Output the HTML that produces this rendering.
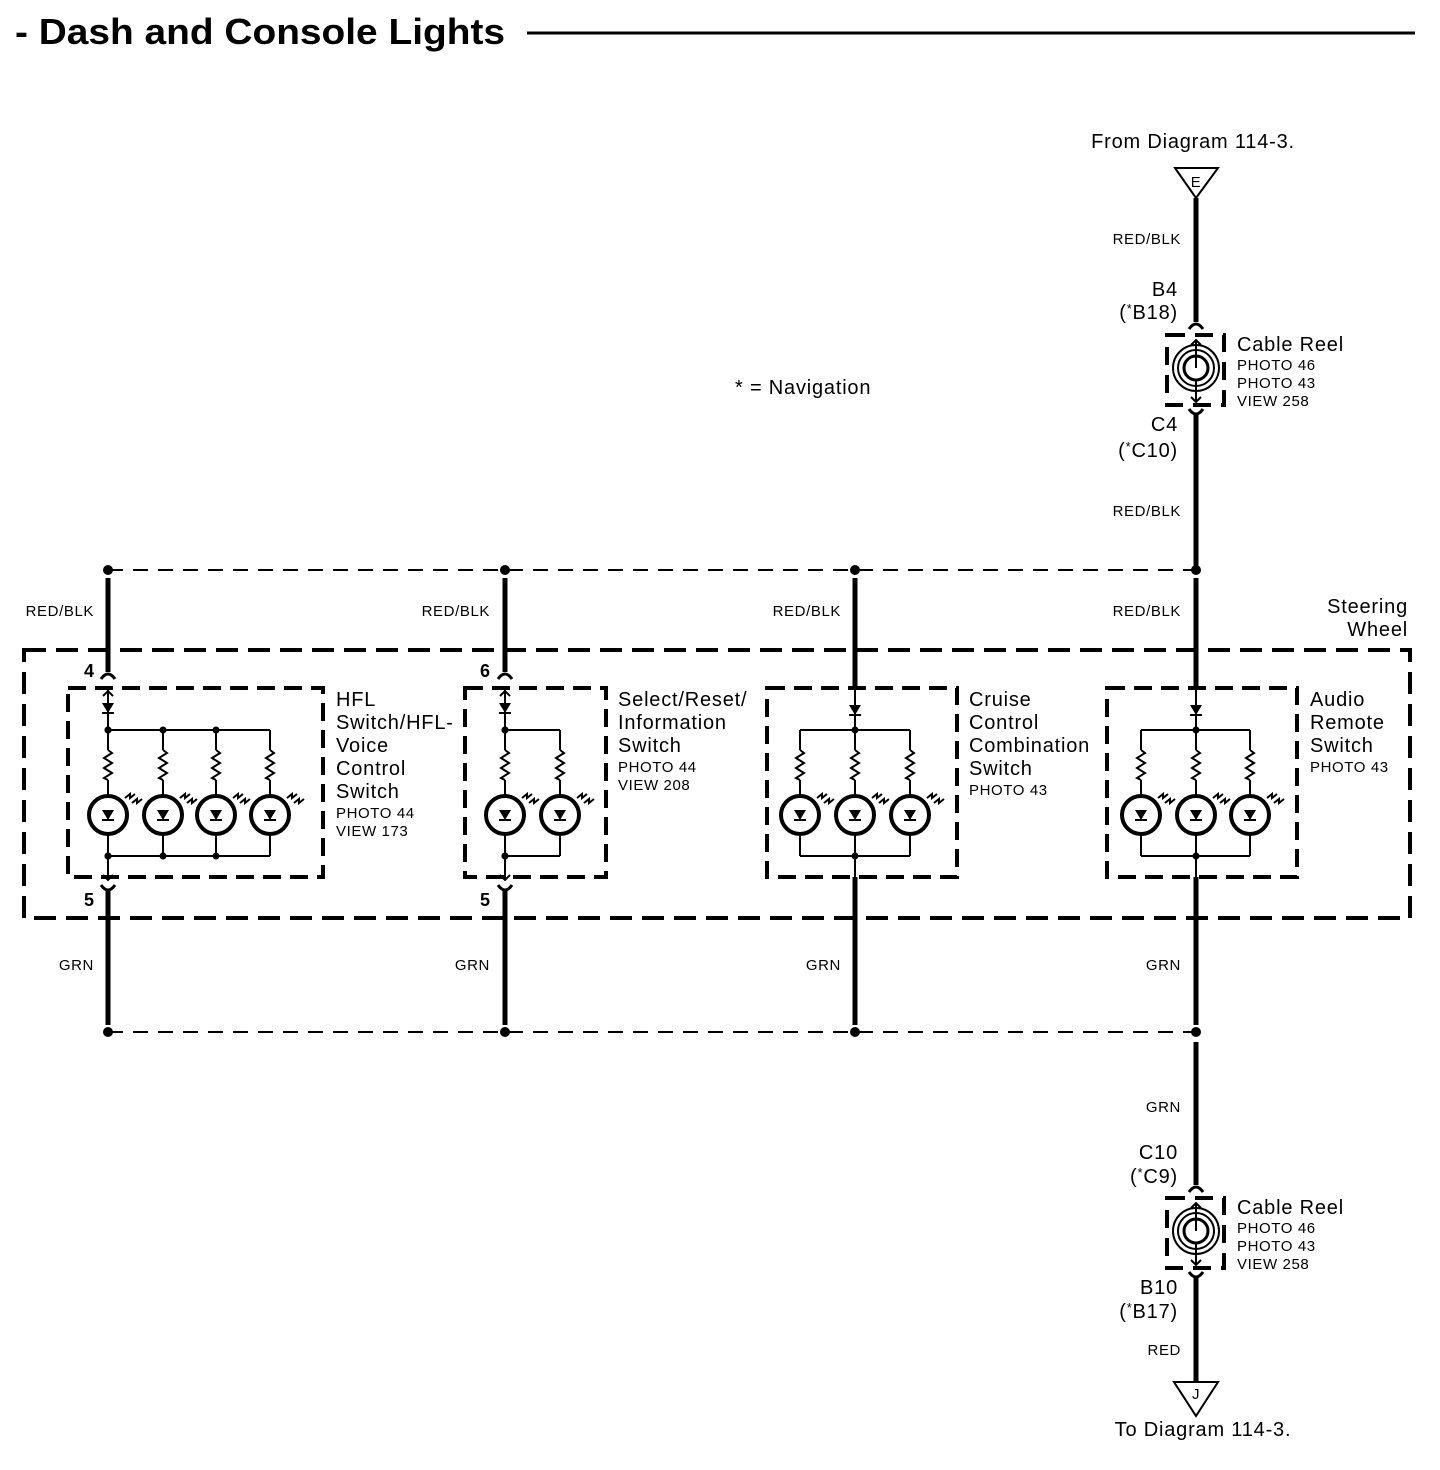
<!DOCTYPE html>
<html><head><meta charset="utf-8"><style>
html,body{margin:0;padding:0;background:#fff;}
svg{display:block;font-family:"Liberation Sans",Arial,sans-serif;}
.t19{font-size:20px;letter-spacing:0.8px;}
.t14{font-size:15px;letter-spacing:0.6px;}
</style></head><body>
<svg id="s" width="1440" height="1470" viewBox="0 0 1440 1470" xmlns="http://www.w3.org/2000/svg">
<text x="15" y="44" font-size="36" font-weight="bold" textLength="490" lengthAdjust="spacingAndGlyphs">- Dash and Console Lights</text>
<line x1="527" y1="33" x2="1415" y2="33" stroke="#000" stroke-width="3"/>

<text class="t19" x="1193" y="148" text-anchor="middle">From Diagram 114-3.</text>
<text class="t14" x="1196" y="187" text-anchor="middle">E</text>
<text class="t14" x="1181" y="244" text-anchor="end">RED/BLK</text>
<text class="t19" x="1178" y="296" text-anchor="end">B4</text>
<text class="t19" x="1178" y="319" text-anchor="end">(<tspan font-size="13" dy="-6">*</tspan><tspan dy="6">B18)</tspan></text>
<text class="t19" x="1237" y="351">Cable Reel</text>
<text class="t14" x="1237" y="370">PHOTO 46</text>
<text class="t14" x="1237" y="388">PHOTO 43</text>
<text class="t14" x="1237" y="406">VIEW 258</text>
<text class="t19" x="1178" y="431" text-anchor="end">C4</text>
<text class="t19" x="1178" y="457" text-anchor="end">(<tspan font-size="13" dy="-6">*</tspan><tspan dy="6">C10)</tspan></text>
<text class="t14" x="1181" y="516" text-anchor="end">RED/BLK</text>
<text class="t19" x="735" y="394">* = Navigation</text>

<text class="t14" x="94" y="616" text-anchor="end">RED/BLK</text>
<text class="t14" x="490" y="616" text-anchor="end">RED/BLK</text>
<text class="t14" x="841" y="616" text-anchor="end">RED/BLK</text>
<text class="t14" x="1181" y="616" text-anchor="end">RED/BLK</text>
<text class="t19" x="1408" y="613" text-anchor="end">Steering</text>
<text class="t19" x="1408" y="636" text-anchor="end">Wheel</text>

<text x="89" y="677" text-anchor="middle" font-weight="bold" font-size="18">4</text>
<text x="485" y="677" text-anchor="middle" font-weight="bold" font-size="18">6</text>
<text x="89" y="906" text-anchor="middle" font-weight="bold" font-size="18">5</text>
<text x="485" y="906" text-anchor="middle" font-weight="bold" font-size="18">5</text>

<text class="t19" x="336" y="706">HFL</text>
<text class="t19" x="336" y="729">Switch/HFL-</text>
<text class="t19" x="336" y="752">Voice</text>
<text class="t19" x="336" y="775">Control</text>
<text class="t19" x="336" y="798">Switch</text>
<text class="t14" x="336" y="818">PHOTO 44</text>
<text class="t14" x="336" y="836">VIEW 173</text>

<text class="t19" x="618" y="706">Select/Reset/</text>
<text class="t19" x="618" y="729">Information</text>
<text class="t19" x="618" y="752">Switch</text>
<text class="t14" x="618" y="772">PHOTO 44</text>
<text class="t14" x="618" y="790">VIEW 208</text>

<text class="t19" x="969" y="706">Cruise</text>
<text class="t19" x="969" y="729">Control</text>
<text class="t19" x="969" y="752">Combination</text>
<text class="t19" x="969" y="775">Switch</text>
<text class="t14" x="969" y="795">PHOTO 43</text>

<text class="t19" x="1310" y="706">Audio</text>
<text class="t19" x="1310" y="729">Remote</text>
<text class="t19" x="1310" y="752">Switch</text>
<text class="t14" x="1310" y="772">PHOTO 43</text>

<text class="t14" x="94" y="970" text-anchor="end">GRN</text>
<text class="t14" x="490" y="970" text-anchor="end">GRN</text>
<text class="t14" x="841" y="970" text-anchor="end">GRN</text>
<text class="t14" x="1181" y="970" text-anchor="end">GRN</text>

<text class="t14" x="1181" y="1112" text-anchor="end">GRN</text>
<text class="t19" x="1178" y="1159" text-anchor="end">C10</text>
<text class="t19" x="1178" y="1183" text-anchor="end">(<tspan font-size="13" dy="-6">*</tspan><tspan dy="6">C9)</tspan></text>
<text class="t19" x="1237" y="1214">Cable Reel</text>
<text class="t14" x="1237" y="1233">PHOTO 46</text>
<text class="t14" x="1237" y="1251">PHOTO 43</text>
<text class="t14" x="1237" y="1269">VIEW 258</text>
<text class="t19" x="1178" y="1294" text-anchor="end">B10</text>
<text class="t19" x="1178" y="1318" text-anchor="end">(<tspan font-size="13" dy="-6">*</tspan><tspan dy="6">B17)</tspan></text>
<text class="t14" x="1181" y="1355" text-anchor="end">RED</text>
<text class="t14" x="1196" y="1399" text-anchor="middle">J</text>
<text class="t19" x="1203" y="1436" text-anchor="middle">To Diagram 114-3.</text>
<g id="g" fill="none" stroke="#000"></g>
</svg>
<script>
var g=document.getElementById('g'),h='';
function L(x1,y1,x2,y2,w,da){h+='<line x1="'+x1+'" y1="'+y1+'" x2="'+x2+'" y2="'+y2+'" stroke-width="'+w+'"'+(da?' stroke-dasharray="'+da+'"':'')+'/>';}
function D(x,y,r){h+='<circle cx="'+x+'" cy="'+y+'" r="'+(r||4)+'" fill="#000" stroke="none"/>';}
function R(x,y,w,hh,sw,da){h+='<rect x="'+x+'" y="'+y+'" width="'+w+'" height="'+hh+'" stroke-width="'+sw+'" stroke-dasharray="'+da+'"/>';}
function diode(x,y){h+='<polygon points="'+(x-6)+','+(y-5)+' '+(x+6)+','+(y-5)+' '+x+','+(y+5)+'" fill="#000" stroke="none"/>';L(x-6,y+5,x+6,y+5,2);}
function res(x,y1){var p='M'+x+' '+y1;for(var i=0;i<6;i++){p+=' L'+(x+(i%2?-4:4))+' '+(y1+3+i*5);}p+=' L'+x+' '+(y1+30);h+='<path d="'+p+'" stroke-width="2"/>';}
function led(x,y){h+='<circle cx="'+x+'" cy="'+y+'" r="19" stroke-width="4"/>';diode(x,y);
 h+='<path d="M'+(x+17)+' '+(y-17)+' l5 -4 l0 4 l5 -4 M'+(x+24)+' '+(y-12)+' l5 -4 l0 4 l5 -4" stroke-width="2"/>';}
function conn(x,y,up){
 if(up) h+='<path d="M'+(x-7)+' '+(y+5)+' Q'+x+' '+(y-5)+' '+(x+7)+' '+(y+5)+'" stroke-width="3"/>';
 else h+='<path d="M'+(x-7)+' '+(y-5)+' Q'+x+' '+(y+5)+' '+(x+7)+' '+(y-5)+'" stroke-width="3"/>';}
function arrowUp(x,y){h+='<path d="M'+(x-5)+' '+(y+5)+' L'+x+' '+y+' L'+(x+5)+' '+(y+5)+'" stroke-width="2"/>';}
function arrowDn(x,y){h+='<path d="M'+(x-5)+' '+(y-5)+' L'+x+' '+y+' L'+(x+5)+' '+(y-5)+'" stroke-width="2"/>';}
h+='<polygon points="1175,168 1218,168 1196,198" stroke-width="2"/>';
L(1196,198,1196,322,5);conn(1196,324,true);
R(1167,335,57,70,4,'18 10');
function reel(cy){h+='<circle cx="1196" cy="'+cy+'" r="23" stroke-width="2"/><circle cx="1196" cy="'+cy+'" r="18" stroke-width="2"/><circle cx="1196" cy="'+cy+'" r="12" stroke-width="3"/>';}
reel(368);L(1196,340,1196,368,2);arrowUp(1196,340);L(1196,380,1196,402,2);arrowDn(1196,402);
conn(1196,414,false);L(1196,414,1196,566,5);
L(108,570,1196,570,2,'15 10');
[108,505,855,1196].forEach(function(x){D(x,570,5);D(x,1032,5);});
R(24,650,1386,268,4,'22 10');
L(108,578,108,672,5);L(505,578,505,672,5);L(855,578,855,688,5);L(1196,578,1196,688,5);
conn(108,674,true);conn(505,674,true);
R(68,688,255,189,4,'18 9');R(465,688,141,189,4,'18 9');R(767,688,190,189,4,'18 9');R(1107,688,190,189,4,'18 9');
function sw(xin,xs){
 arrowUp(xin,691);
 L(xin,688,xin,730,2);diode(xin,708);
 L(xs[0],730,xs[xs.length-1],730,2);L(xs[0],856,xs[xs.length-1],856,2);
 xs.forEach(function(x){L(x,730,x,750,2);res(x,750);L(x,780,x,796,2);led(x,815);L(x,834,x,856,2);});
 xs.forEach(function(x){if(x!=xs[xs.length-1]){D(x,730,3.5);D(x,856,3.5);}});
 D(xin,730,3.5);D(xin,856,3.5);
 L(xin,856,xin,880,2);arrowDn(xin,880);conn(xin,890,false);L(xin,890,xin,1025,5);
}
sw(108,[108,163,216,270]);
sw(505,[505,560]);
function sw2(xc,xs){L(xc,688,xc,730,2);diode(xc,710);L(xs[0],730,xs[2],730,2);L(xs[0],856,xs[2],856,2);
 xs.forEach(function(x){L(x,730,x,750,2);res(x,750);L(x,780,x,796,2);led(x,815);L(x,834,x,856,2);});
 D(xc,730,3.5);D(xc,856,3.5);L(xc,856,xc,877,2);L(xc,877,xc,1025,5);}
sw2(855,[800,855,910]);sw2(1196,[1141,1196,1250]);
L(108,1032,1196,1032,2,'15 10');
L(1196,1042,1196,1185,5);conn(1196,1187,true);
R(1167,1198,57,70,4,'18 10');reel(1231);L(1196,1203,1196,1231,2);arrowUp(1196,1203);L(1196,1243,1196,1265,2);arrowDn(1196,1265);
conn(1196,1277,false);L(1196,1277,1196,1382,5);
h+='<polygon points="1174,1382 1218,1382 1196,1416" stroke-width="2"/>';
g.innerHTML=h;
</script>
</body></html>
